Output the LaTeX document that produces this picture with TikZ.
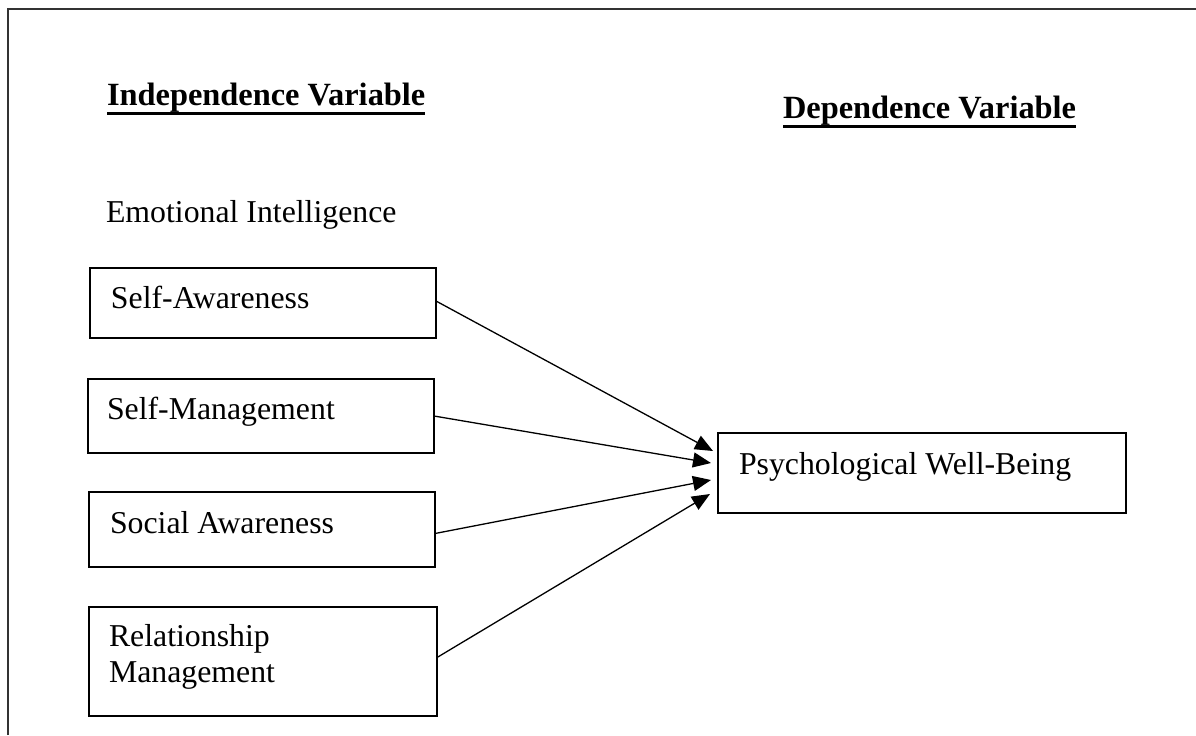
\documentclass[tikz,border=0pt]{standalone}
\usepackage{fontspec}
\setmainfont{Liberation Serif}
\usetikzlibrary{arrows.meta,calc}

\begin{document}
\begin{tikzpicture}[
  x=0.5pt, y=-0.5pt,
  every node/.style={inner sep=0pt, outer sep=0pt},
  txt/.style={font=\fontsize{15.9}{18}\selectfont, anchor=base west},
  heading/.style={font=\fontsize{16.2}{18}\selectfont\bfseries, anchor=base west},
  varbox/.style={draw=black, line width=0.75pt, rectangle, anchor=north west, minimum width=173pt},
  link/.style={line width=0.65pt, -{Triangle[length=9pt,width=7.5pt]}},
  frameline/.style={draw=black!80, line width=1pt}
]
  \useasboundingbox (0,0) rectangle (1196,735);

  % open frame (top and left edges)
  \coordinate (fbl) at (8,735);
  \coordinate (ftl) at (8,9);
  \coordinate (ftr) at (1196,9);
  \draw[frameline] (fbl) -- (ftl) -- (ftr);

  % headings
  \node[heading] (indep) at (107,105) {Independence Variable};
  \draw[line width=1.5pt] ($(indep.base west)+(0,8)$) coordinate (iu1) -- ($(indep.base east)+(0,8)$) coordinate (iu2);
  \node[heading] (dep) at (783,118) {Dependence Variable};
  \draw[line width=1.5pt] ($(dep.base west)+(0,8)$) coordinate (du1) -- ($(dep.base east)+(0,8)$) coordinate (du2);

  \node[txt] (ei) at (106,222) {Emotional Intelligence};

  % independent variable boxes
  \node[varbox, minimum height=35pt] (sa) at (90,268) {};
  \node[txt] (satxt) at ($(sa.north west)+(21,40)$) {Self-Awareness};

  \node[varbox, minimum height=37pt] (sm) at (88,379) {};
  \node[txt] (smtxt) at ($(sm.north west)+(19,40)$) {Self-Management};

  \node[varbox, minimum height=37.5pt] (soa) at (89,492) {};
  \node[txt] (soatxt) at ($(soa.north west)+(21,41)$) {Social Awareness};

  \node[varbox, minimum width=174pt, minimum height=54.5pt] (rm) at (89,607) {};
  % base anchor of a two-line node sits on its last line
  \node[txt, align=left] (rmtxt) at ($(rm.north west)+(20,75)$) {Relationship\\Management};

  % dependent variable box
  \node[varbox, minimum width=204pt, minimum height=40pt] (pwb) at (718,433) {};
  \node[txt] (pwbtxt) at ($(pwb.north west)+(21,41)$) {Psychological Well-Being};

  % arrow end points in front of the dependent box
  \coordinate (t1) at ($(pwb.west)+(-5,-22)$);
  \coordinate (t2) at ($(pwb.west)+(-7,-10)$);
  \coordinate (t3) at ($(pwb.west)+(-7,7)$);
  \coordinate (t4) at ($(pwb.west)+(-8,21)$);

  \draw[link] ($(sa.east)+(0,-2)$) -- (t1);
  \draw[link] (sm.east) -- (t2);
  \draw[link] ($(soa.east)+(0,4)$) -- (t3);
  \draw[link] ($(rm.east)+(0,-4)$) -- (t4);
\end{tikzpicture}
\end{document}
